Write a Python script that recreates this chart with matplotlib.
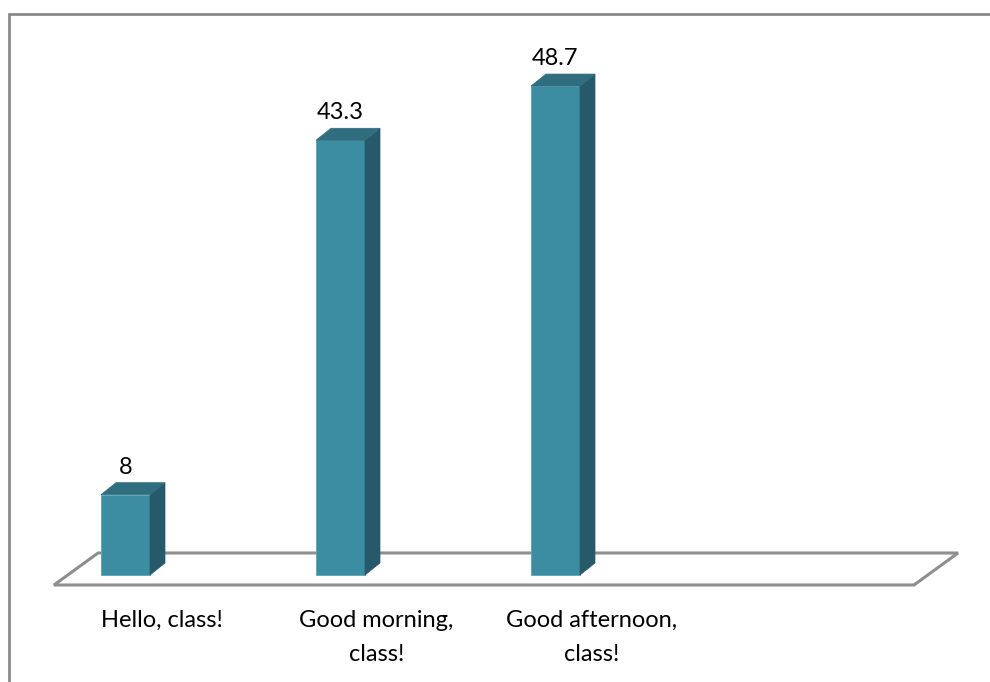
import matplotlib
matplotlib.use("Agg")
import matplotlib.pyplot as plt
from matplotlib.patches import Polygon, Rectangle

categories = ["Hello, class!", "Good morning,\nclass!", "Good afternoon,\nclass!", ""]
values = [8, 43.3, 48.7, None]
value_labels = ["8", "43.3", "48.7", ""]

W, H = 990, 682
PX_X = 215.0      # pixels per category slot
PX_Y = 10.04      # pixels per value unit
X0_PX = 54        # left of floor front edge
Y0_PX = H - 575   # baseline of bars (from bottom)

front_c = "#3c8ca2"
side_c = "#26596a"
top_c = "#2f6d7f"
floor_c = "#8e8e8e"

fig = plt.figure(figsize=(W / 100, H / 100), dpi=100)
ax = fig.add_axes([0, 0, 1, 1])
ax.set_xlim(-X0_PX / PX_X, (W - X0_PX) / PX_X)
ax.set_ylim(-Y0_PX / PX_Y, (H - Y0_PX) / PX_Y)
ax.axis("off")

# depth offsets in data units
bdx, bdy = 15 / PX_X, 12 / PX_Y
fdx, fdy = 44 / PX_X, 32 / PX_Y
floor_front = -10 / PX_Y
n = len(categories)

# floor
ax.add_patch(Polygon([(0, floor_front), (n, floor_front),
                      (n + fdx, floor_front + fdy), (fdx, floor_front + fdy)],
                     closed=True, fill=False, edgecolor=floor_c, lw=2.2, zorder=1))

bar_off = 47 / PX_X
bar_w = 49 / PX_X
for i, v in enumerate(values):
    if v is None:
        continue
    l = i + bar_off
    r = l + bar_w
    ax.add_patch(Polygon([(l, 0), (r, 0), (r, v), (l, v)], closed=True,
                         facecolor=front_c, edgecolor="#5aa5b8", lw=0.6, zorder=3))
    ax.add_patch(Polygon([(r, 0), (r + bdx, bdy), (r + bdx, v + bdy), (r, v)],
                         closed=True, facecolor=side_c, edgecolor=side_c, lw=0.5, zorder=3))
    ax.add_patch(Polygon([(l, v), (r, v), (r + bdx, v + bdy), (l + bdx, v + bdy)],
                         closed=True, facecolor=top_c, edgecolor=top_c, lw=0.5, zorder=3))
    ax.text(l + bar_w / 2, v + bdy + 0.5, value_labels[i], ha="center", va="bottom",
            fontsize=17, family="Lato", color="black")

for i, c in enumerate(categories):
    ax.text(i + 0.5, floor_front - 2.5, c, ha="center", va="top", fontsize=17,
            family="Lato", color="black", linespacing=1.75)

# outer border
fig.patches.append(Rectangle((8.5 / W, -0.1), 1.2, (H - 13.5) / H + 0.1,
                             transform=fig.transFigure, fill=False,
                             edgecolor="#8a8a8a", lw=2))

fig.savefig("out.png", dpi=100)
